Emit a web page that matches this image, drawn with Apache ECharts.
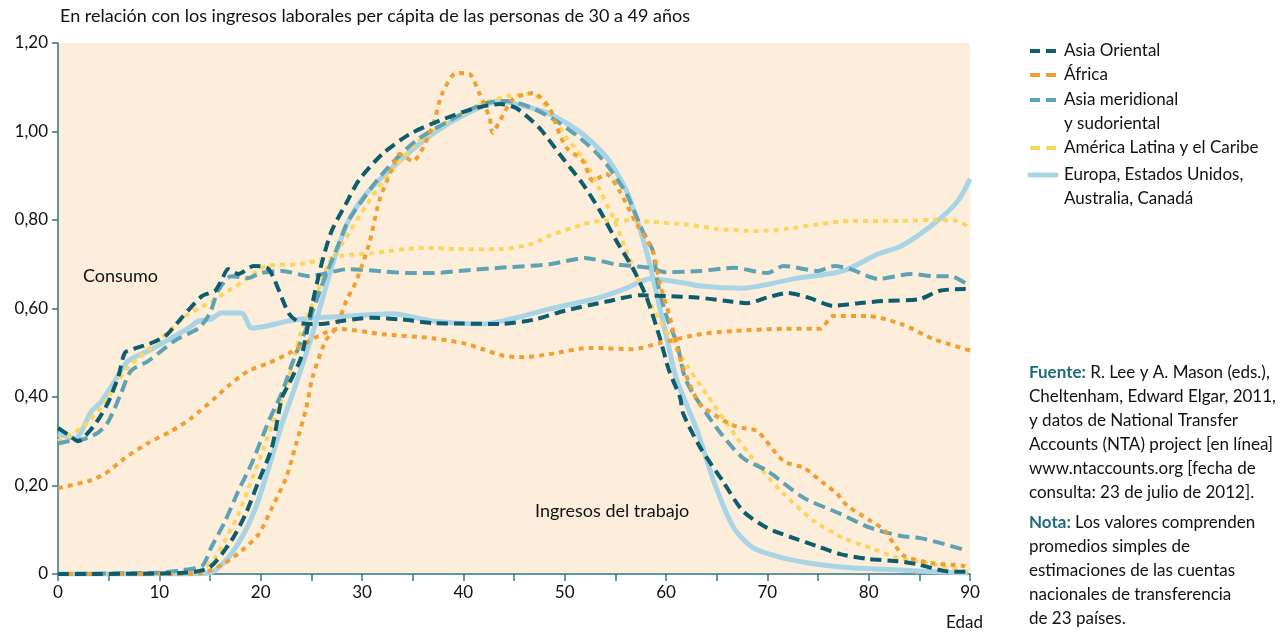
<!DOCTYPE html>
<html lang="es">
<head>
<meta charset="UTF-8">
<title>Consumo e ingresos laborales por edad</title>
<script src="https://cdn.jsdelivr.net/npm/echarts@6.0.0/dist/echarts.min.js"></script>
<style>
  html, body { margin: 0; padding: 0; background: #fff; }
</style>
</head>
<body>
<div id="main" style="width: 1282px; height: 634px;"></div>
<script>
// [edad, valor] en relación con los ingresos laborales per cápita de 30-49 años
const asiaOrientalConsumo = [[0,0.33],[1,0.315],[2,0.30],[3,0.32],[4,0.35],[5,0.39],[6,0.45],[6.6,0.50],[7.6,0.51],[9,0.52],[10.6,0.538],[12.2,0.579],[14.2,0.628],[15.5,0.64],[16.1,0.662],[16.8,0.689],[17.8,0.678],[19.3,0.696],[20.8,0.689],[22.8,0.588],[24,0.567],[26,0.565],[28,0.572],[31,0.579],[34,0.575],[37,0.567],[40,0.566],[43.6,0.565],[47,0.575],[50,0.595],[54,0.615],[57.5,0.63],[60,0.628],[63,0.625],[66,0.617],[68,0.612],[70,0.625],[72,0.635],[74,0.625],[76.5,0.606],[79,0.612],[81.5,0.617],[85,0.621],[87,0.64],[89.5,0.644],[90,0.643]];
const asiaOrientalIngresos = [[0,0],[12,0.002],[14.9,0.014],[17.1,0.075],[18.5,0.135],[19.8,0.21],[21.1,0.285],[22.1,0.398],[22.8,0.43],[24,0.49],[25,0.60],[26,0.70],[27,0.775],[28.4,0.836],[29.7,0.89],[32,0.949],[34.7,0.994],[37.6,1.024],[40.9,1.051],[43.6,1.062],[45.2,1.053],[47.5,1.008],[49.8,0.94],[51.8,0.881],[53.5,0.82],[55.1,0.753],[56.7,0.692],[58.1,0.624],[59.4,0.533],[60.3,0.46],[61.4,0.398],[61.7,0.362],[63.4,0.285],[65.6,0.21],[67.6,0.142],[70,0.104],[72.6,0.081],[74.9,0.063],[77.2,0.045],[79.9,0.034],[82.9,0.029],[84.8,0.022],[87.4,0.007],[89.1,0.005],[90,0.005]];

const africaConsumo = [[0,0.194],[3,0.21],[4.6,0.226],[6.6,0.262],[8.9,0.296],[11.2,0.323],[13.2,0.353],[15.5,0.398],[16.8,0.425],[18.8,0.459],[20.8,0.477],[22.8,0.499],[25.7,0.538],[27.7,0.554],[32,0.542],[36.9,0.533],[40.3,0.52],[41.9,0.508],[44,0.493],[46,0.49],[48.5,0.497],[52.5,0.511],[56.7,0.508],[59.4,0.522],[63.4,0.542],[66.6,0.549],[71.6,0.554],[75.2,0.554],[76.5,0.583],[79.9,0.583],[83.2,0.565],[86.4,0.531],[90,0.505]];
const africaIngresos = [[0,0],[10,0],[14.2,0.002],[16.5,0.025],[18.1,0.052],[19.8,0.09],[21.1,0.149],[22.5,0.217],[23.5,0.294],[24.5,0.375],[25.1,0.443],[26.4,0.527],[27.4,0.555],[28.5,0.62],[29.4,0.66],[30.7,0.746],[31.7,0.843],[33,0.918],[33.7,0.949],[35,0.933],[36.9,1.008],[37.9,1.085],[39.3,1.132],[40.6,1.13],[41.6,1.085],[42.6,1.03],[42.9,0.997],[43.6,1.024],[44.9,1.073],[46.9,1.087],[48.5,1.053],[49.5,0.994],[50.2,0.963],[51.8,0.933],[52.8,0.888],[54.1,0.904],[55.4,0.866],[57.1,0.791],[58.7,0.73],[59.4,0.655],[60.4,0.579],[61,0.52],[61.7,0.466],[62.7,0.41],[63.5,0.38],[66.3,0.339],[67.6,0.33],[69,0.323],[71.6,0.255],[73.6,0.24],[75.5,0.206],[76.9,0.181],[77.9,0.154],[80.2,0.12],[81.5,0.10],[82.5,0.068],[83.5,0.041],[86.1,0.025],[89.4,0.018],[90,0.01]];

const asiaMeridionalConsumo = [[0,0.295],[1,0.30],[2.6,0.305],[4,0.32],[5,0.346],[6.2,0.407],[7.2,0.459],[8.9,0.481],[11.5,0.527],[13.9,0.556],[15,0.59],[15.8,0.64],[17.1,0.673],[18.8,0.669],[20,0.68],[22.1,0.685],[24.8,0.673],[28.7,0.689],[31,0.686],[34.7,0.68],[37,0.68],[39.6,0.685],[43.6,0.692],[48.5,0.70],[52,0.714],[55,0.70],[58.4,0.692],[60,0.682],[63.4,0.685],[66.7,0.692],[70,0.68],[71.6,0.696],[75,0.685],[76.6,0.696],[78.2,0.689],[80.9,0.667],[84.2,0.678],[86.4,0.673],[88.1,0.673],[90,0.65]];
const asiaMeridionalIngresos = [[0,0],[10,0.003],[12,0.008],[14.2,0.018],[15.1,0.059],[16.5,0.12],[17.8,0.188],[19.1,0.249],[20.8,0.346],[22.1,0.41],[23.1,0.475],[24.8,0.572],[26,0.65],[27.7,0.746],[28.7,0.80],[32,0.904],[35.3,0.979],[38.6,1.024],[41.9,1.062],[44.3,1.069],[46.8,1.053],[49.5,1.019],[52.2,0.972],[54.1,0.927],[56.1,0.859],[57.7,0.775],[58.7,0.73],[59.2,0.655],[60.1,0.579],[61.1,0.52],[62,0.436],[65,0.33],[67.6,0.262],[70,0.233],[73.6,0.172],[77.2,0.136],[80.2,0.104],[83.2,0.086],[85.1,0.081],[87.4,0.068],[89.8,0.052]];

const americaLatinaConsumo = [[0,0.30],[2.3,0.33],[4,0.37],[5,0.40],[6,0.44],[7,0.47],[8,0.49],[9.9,0.527],[12.9,0.588],[14.9,0.612],[16.8,0.64],[18.1,0.658],[18.8,0.669],[20.5,0.696],[23.8,0.70],[25.4,0.707],[28,0.719],[31,0.725],[35.9,0.737],[40.3,0.734],[43.6,0.734],[46.8,0.746],[48.5,0.764],[51.8,0.79],[53.5,0.798],[55.1,0.80],[58.4,0.796],[62,0.79],[65,0.78],[69,0.775],[72,0.78],[75,0.79],[78.2,0.798],[83.2,0.798],[86.4,0.80],[88.8,0.798],[90,0.78]];
const americaLatinaIngresos = [[0,0],[12,0],[13.9,0.007],[15.5,0.036],[16.8,0.09],[17.8,0.135],[18.8,0.194],[20.1,0.271],[21.5,0.362],[22.5,0.42],[24,0.549],[25.4,0.624],[26.7,0.70],[28,0.745],[31.4,0.866],[35.3,0.972],[38.6,1.024],[41.9,1.062],[44.3,1.08],[46.8,1.085],[48.5,1.046],[50.2,0.985],[51.8,0.94],[53.5,0.866],[54.8,0.805],[56.1,0.73],[57.4,0.66],[58.7,0.60],[60.5,0.53],[62.1,0.47],[64.2,0.40],[67,0.308],[69.3,0.24],[71.6,0.181],[74.6,0.12],[77.5,0.081],[80.2,0.059],[82.9,0.036],[85.8,0.025],[89.4,0.007],[90,0.005]];

const europaConsumo = [[0,0.316],[1.7,0.307],[3.3,0.368],[4.3,0.39],[5.6,0.436],[6.9,0.481],[8.9,0.504],[11.2,0.533],[12.9,0.556],[13.9,0.572],[15.1,0.576],[16.1,0.59],[18.1,0.59],[19.1,0.556],[20.5,0.56],[22.8,0.572],[25.4,0.579],[28.7,0.583],[33,0.588],[36.9,0.572],[41.9,0.565],[45.2,0.579],[48.5,0.599],[53.5,0.625],[56.1,0.646],[58.4,0.667],[61.7,0.658],[63.4,0.651],[67.6,0.646],[72.6,0.667],[77.5,0.685],[80.9,0.723],[83.2,0.741],[86.4,0.791],[88.8,0.843],[90,0.893]];
const europaIngresos = [[0,0],[12,0],[14.9,0.002],[16.5,0.029],[18.1,0.081],[19.5,0.149],[20.8,0.24],[22.1,0.339],[23.5,0.43],[25.2,0.55],[27.1,0.70],[28.7,0.80],[30.4,0.859],[33.7,0.933],[36.9,0.994],[40.3,1.04],[43.6,1.069],[45.2,1.062],[48.5,1.04],[51.8,0.994],[54.2,0.94],[56.1,0.866],[57.4,0.782],[58.4,0.70],[59.4,0.60],[60.1,0.53],[61.1,0.436],[63.1,0.323],[64.7,0.21],[66.7,0.104],[68.6,0.059],[71.6,0.036],[74.9,0.022],[78.2,0.014],[81.5,0.011],[84.8,0.007],[89.8,0.002]];

const regiones = ['Asia Oriental', 'África', 'Asia meridional\ny sudoriental', 'América Latina y el Caribe', 'Europa, Estados Unidos,\nAustralia, Canadá'];
const xTicks = [0, 10, 20, 30, 40, 50, 60, 70, 80, 90];
const yTicks = [0, 0.2, 0.4, 0.6, 0.8, 1.0, 1.2];

const FONT = 'Lato';
const AXIS = '#2f7585';
const INK = '#111111';

// estilo por región, en orden de dibujo (de abajo hacia arriba)
const styles = [
    { name: regiones[4], color: '#a9d4e6', width: 5, dash: 'solid', data: [europaConsumo, europaIngresos] },
    { name: regiones[3], color: '#fdd45c', width: 4, dash: [5, 5], data: [americaLatinaConsumo, americaLatinaIngresos] },
    { name: regiones[2], color: '#5ea2b4', width: 4, dash: [12, 6], data: [asiaMeridionalConsumo, asiaMeridionalIngresos] },
    { name: regiones[1], color: '#f0a030', width: 4, dash: [5, 5], data: [africaConsumo, africaIngresos] },
    { name: regiones[0], color: '#0e5d6e', width: 4, dash: [11, 6], data: [asiaOrientalConsumo, asiaOrientalIngresos] }
];

const series = [];
styles.forEach(function (s) {
    s.data.forEach(function (d) {
        series.push({
            name: s.name,
            type: 'line',
            data: d,
            smooth: 0.25,
            showSymbol: false,
            symbol: 'none',
            animation: false,
            lineStyle: { color: s.color, width: s.width, type: s.dash, cap: 'butt', join: 'round' }
        });
    });
});

// leyenda dibujada a mano (nombres en dos líneas)
const legendY = [51, 75, 100, 148, 175];
const graphics = [];
regiones.forEach(function (reg, i) {
    const s = styles.find(function (st) { return st.name === reg; });
    const y = legendY[i];
    graphics.push({
        type: 'line',
        shape: { x1: 1030, y1: y, x2: 1056, y2: y },
        style: {
            stroke: s.color,
            lineWidth: s.dash === 'solid' ? 5 : 4,
            lineDash: s.dash === 'solid' ? null : [10, 6],
            lineCap: s.dash === 'solid' ? 'round' : 'butt'
        }
    });
    graphics.push({
        type: 'text',
        left: 1064,
        top: y - 12,
        style: { text: reg, font: '17px ' + FONT, fill: INK, lineHeight: 24 }
    });
});

graphics.push({
    type: 'text', left: 60, top: 7,
    style: { text: 'En relación con los ingresos laborales per cápita de las personas de 30 a 49 años', font: '18px ' + FONT, fill: INK }
});
graphics.push({
    type: 'text', left: 946, top: 614,
    style: { text: 'Edad', font: '17px ' + FONT, fill: INK }
});
graphics.push({
    type: 'text', left: 83, top: 267,
    style: { text: 'Consumo', font: '18px ' + FONT, fill: INK }
});
graphics.push({
    type: 'text', left: 535, top: 502,
    style: { text: 'Ingresos del trabajo', font: '18px ' + FONT, fill: INK }
});
const richBold = { b: { fontFamily: FONT, fontSize: 17, fontWeight: 'bold', fill: '#1e6c7c', lineHeight: 24 } };
graphics.push({
    type: 'text', left: 1029, top: 361,
    style: {
        text: '{b|Fuente:} R. Lee y A. Mason (eds.),\nCheltenham, Edward Elgar, 2011,\ny datos de National Transfer\nAccounts (NTA) project [en línea]\nwww.ntaccounts.org [fecha de\nconsulta: 23 de julio de 2012].',
        font: '17px ' + FONT, fill: INK, lineHeight: 24, rich: richBold
    }
});
graphics.push({
    type: 'text', left: 1029, top: 511,
    style: {
        text: '{b|Nota:} Los valores comprenden\npromedios simples de\nestimaciones de las cuentas\nnacionales de transferencia\nde 23 países.',
        font: '17px ' + FONT, fill: INK, lineHeight: 24, rich: richBold
    }
});

const chart = echarts.init(document.getElementById('main'));
chart.setOption({
    backgroundColor: '#ffffff',
    textStyle: { fontFamily: FONT },
    grid: {
        left: 58, right: 312, top: 43, bottom: 60,
        show: true, backgroundColor: '#fdeedc', borderWidth: 0
    },
    xAxis: {
        type: 'value', min: 0, max: 90, interval: 5,
        axisLine: { lineStyle: { color: AXIS, width: 1.5 } },
        axisTick: { length: 7, lineStyle: { color: AXIS, width: 1.5 } },
        axisLabel: {
            color: INK, fontSize: 17, fontFamily: FONT, margin: 10,
            formatter: function (v) { return xTicks.indexOf(v) >= 0 ? String(v) : ''; }
        },
        splitLine: { show: false }
    },
    yAxis: {
        type: 'value', min: 0, max: 1.2, interval: 0.2,
        axisLine: { show: true, lineStyle: { color: AXIS, width: 1.5 } },
        axisTick: { show: true, length: 6, lineStyle: { color: AXIS, width: 1.5 } },
        axisLabel: {
            color: INK, fontSize: 17, fontFamily: FONT, margin: 10,
            formatter: function (v) {
                const t = yTicks.find(function (k) { return Math.abs(k - v) < 1e-6; });
                if (t === undefined) return '';
                return t === 0 ? '0' : t.toFixed(2).replace('.', ',');
            }
        },
        splitLine: { show: false }
    },
    legend: { show: false },
    graphic: graphics,
    series: series
});
</script>
</body>
</html>
